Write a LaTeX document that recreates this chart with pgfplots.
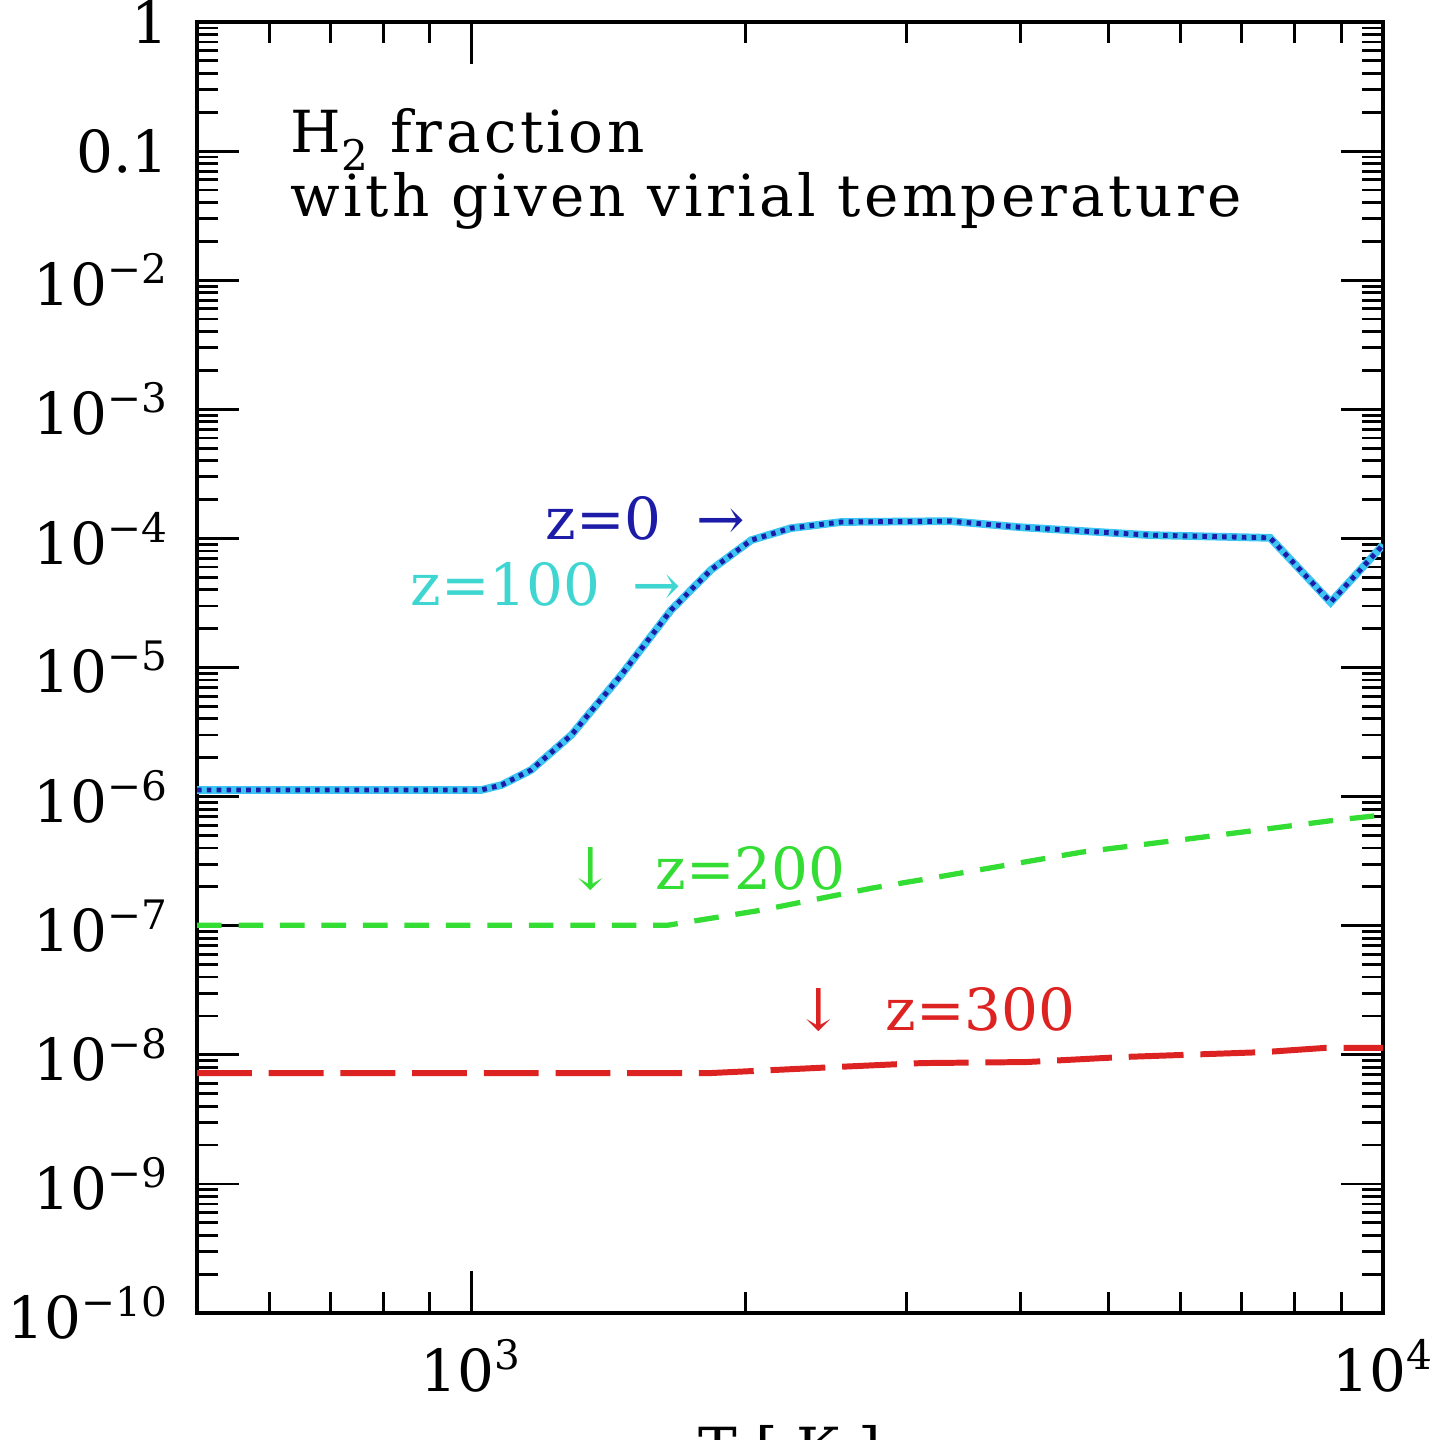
\documentclass[border=0pt]{standalone}
\usepackage{fontspec}
\setmainfont{DejaVu Serif}
\newfontfamily\wideserif[LetterSpace=6]{DejaVu Serif}
\usepackage{pgfplots}
\pgfplotsset{compat=1.18}
\definecolor{czero}{HTML}{1C1CA8}
\definecolor{chund}{HTML}{3CC4F2}
\definecolor{chundtxt}{HTML}{3FD6D2}
\definecolor{ctwo}{HTML}{33DD33}
\definecolor{cthree}{HTML}{DD2222}
\newcommand{\ex}[1]{10\textsuperscript{#1}}

\begin{document}
\begin{tikzpicture}
\begin{axis}[
  width=11.86cm, height=12.91cm, scale only axis,
  at={(0,0)}, anchor=south west,
  xmode=log, ymode=log,
  xmin=500, xmax=10000, ymin=1e-10, ymax=1,
  font=\fontsize{16.5}{20}\selectfont,
  xtick={1000,10000}, xticklabels={\ex{3},\ex{4}},
  minor xtick={600,700,800,900,2000,3000,4000,5000,6000,7000,8000,9000},
  ytick={1e-10,1e-9,1e-8,1e-7,1e-6,1e-5,1e-4,1e-3,1e-2,0.1,1},
  yticklabels={\ex{−10},\ex{−9},\ex{−8},\ex{−7},\ex{−6},\ex{−5},\ex{−4},\ex{−3},\ex{−2},0.1,1},
  minor ytick={2e-10,3e-10,4e-10,5e-10,6e-10,7e-10,8e-10,9e-10,
    2e-9,3e-9,4e-9,5e-9,6e-9,7e-9,8e-9,9e-9,
    2e-8,3e-8,4e-8,5e-8,6e-8,7e-8,8e-8,9e-8,
    2e-7,3e-7,4e-7,5e-7,6e-7,7e-7,8e-7,9e-7,
    2e-6,3e-6,4e-6,5e-6,6e-6,7e-6,8e-6,9e-6,
    2e-5,3e-5,4e-5,5e-5,6e-5,7e-5,8e-5,9e-5,
    2e-4,3e-4,4e-4,5e-4,6e-4,7e-4,8e-4,9e-4,
    2e-3,3e-3,4e-3,5e-3,6e-3,7e-3,8e-3,9e-3,
    2e-2,3e-2,4e-2,5e-2,6e-2,7e-2,8e-2,9e-2,
    0.2,0.3,0.4,0.5,0.6,0.7,0.8,0.9},
  tick align=inside,
  major tick length=0.42cm, minor tick length=0.21cm,
  tick style={black, line width=0.8pt},
  axis line style={line width=0.9pt},
  yticklabel style={xshift=-0.16cm},
  xticklabel style={yshift=-0.14cm},
  xlabel={T [ K ]},
  xlabel style={at={(rel axis cs:0.5,0)}, anchor=north, yshift=-1.0cm},
]
% z=100 (solid cyan)
\addplot[chund, line width=2.2pt] coordinates {
  (500,1.125e-6) (1025,1.125e-6) (1079,1.23e-6) (1163,1.61e-6) (1287,3.0e-6)
  (1460,8.75e-6) (1656,2.79e-5) (1831,5.7e-5) (2028,9.7e-5) (2240,1.2e-4)
  (2545,1.34e-4) (3356,1.36e-4) (4003,1.22e-4) (5550,1.06e-4) (7520,1.01e-4)
  (8760,3.2e-5) (10000,8.9e-5)};
% z=0 (dotted dark blue)
\addplot[czero, line width=1.4pt, dash pattern=on 1.3pt off 1.5pt] coordinates {
  (500,1.125e-6) (1025,1.125e-6) (1079,1.23e-6) (1163,1.61e-6) (1287,3.0e-6)
  (1460,8.75e-6) (1656,2.79e-5) (1831,5.7e-5) (2028,9.7e-5) (2240,1.2e-4)
  (2545,1.34e-4) (3356,1.36e-4) (4003,1.22e-4) (5550,1.06e-4) (7520,1.01e-4)
  (8760,3.2e-5) (10000,8.9e-5)};
% z=200 (dashed green)
\addplot[ctwo, line width=1.5pt, dash pattern=on 7pt off 4.8pt] coordinates {
  (500,1.01e-7) (1644,1.01e-7) (2080,1.32e-7) (2755,1.96e-7) (3244,2.38e-7)
  (4677,3.72e-7) (6350,4.86e-7) (8890,6.59e-7) (10000,7.2e-7)};
% z=300 (long-dashed red)
\addplot[cthree, line width=1.7pt, dash pattern=on 15.6pt off 4.8pt] coordinates {
  (500,7.22e-9) (1828,7.22e-9) (2516,8.05e-9) (3119,8.63e-9) (4064,8.79e-9)
  (5192,9.62e-9) (7413,1.05e-8) (8616,1.13e-8) (10000,1.13e-8)};

\node[anchor=base west, inner sep=0pt, font=\wideserif\fontsize{16.5}{20}\selectfont] at (rel axis cs:0.0784,0.899) {H\raisebox{-0.6ex}{\fontsize{12}{12}\selectfont 2} fraction};
\node[anchor=base west, inner sep=0pt, font=\wideserif\fontsize{16.5}{20}\selectfont] at (rel axis cs:0.0784,0.849) {with given virial temperature};
\node[anchor=base west, inner sep=0pt, text=czero] at (rel axis cs:0.2934,0.599) {z=0\hspace{0.6em}→};
\node[anchor=base west, inner sep=0pt, text=chundtxt] at (rel axis cs:0.1796,0.548) {z=100\hspace{0.55em}→};
\node[anchor=base west, inner sep=0pt, text=ctwo] at (rel axis cs:0.311,0.328) {↓};
\node[anchor=base west, inner sep=0pt, text=ctwo] at (rel axis cs:0.386,0.328) {z=200};
\node[anchor=base west, inner sep=0pt, text=cthree] at (rel axis cs:0.503,0.219) {↓};
\node[anchor=base west, inner sep=0pt, text=cthree] at (rel axis cs:0.580,0.219) {z=300};
\end{axis}
\pgfresetboundingbox
\path[use as bounding box] (-1.97,-1.27) rectangle (12.36,13.13);
\end{tikzpicture}
\end{document}
